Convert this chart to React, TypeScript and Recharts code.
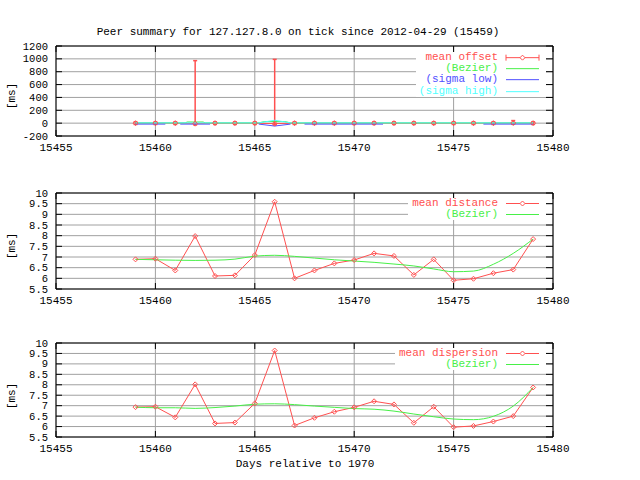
import React from "react"
import { LineChart, Line, XAxis, YAxis, CartesianGrid, ErrorBar, Legend, ReferenceArea } from "recharts"

const days = [15459, 15460, 15461, 15462, 15463, 15464, 15465, 15466, 15467, 15468, 15469, 15470, 15471, 15472, 15473, 15474, 15475, 15476, 15477, 15478, 15479]

// offset panel [ms]
const offset = [0, 0, 0, -8, 0, 0, 0, -8, 0, 0, 0, 0, 0, 0, 0, 0, 0, 0, 0, 2, 0]
const offsetErrLow = [20, 20, 20, 20, 20, 20, 20, 20, 20, 20, 20, 20, 20, 20, 20, 20, 20, 20, 20, 20, 20]
const offsetErrHigh = [20, 20, 20, 980, 20, 20, 20, 1000, 20, 20, 20, 20, 20, 20, 20, 20, 20, 20, 20, 38, 20]
const offsetBezierDays = [15459, 15461.5, 15461.6, 15462.4, 15462.5, 15465.2, 15465.5, 15466.5, 15466.8, 15479]
const offsetBezier = [4, 4, 18, 18, 4, 4, 25, 25, 4, 4]
const sigmaLowDays = [15459, 15460.5, 15460.9, 15461.25, 15462.75, 15464, 15465.2, 15466, 15466.8, 15467.2, 15467.5, 15471.45, 15474, 15476.5, 15479]
const sigmaLow = [-15, -15, null, -15, -15, null, -15, -45, -15, null, -15, -15, null, -15, -15]
const sigmaHighDays = [15459, 15465.2, 15466, 15466.8, 15479]
const sigmaHigh = [4, 4, 45, 4, 4]

// distance / dispersion panels [ms]
const distance = [6.89, 6.92, 6.37, 7.98, 6.11, 6.14, 7.09, 9.59, 6.0, 6.37, 6.7, 6.86, 7.17, 7.05, 6.16, 6.89, 5.91, 5.98, 6.24, 6.41, 7.84]
const distanceBezier = [6.89, 6.87, 6.85, 6.84, 6.85, 6.9, 7.04, 7.08, 7.03, 6.95, 6.87, 6.81, 6.75, 6.67, 6.58, 6.44, 6.31, 6.34, 6.66, 7.17, 7.84]
const dispersion = [6.93, 6.95, 6.44, 8.02, 6.15, 6.19, 7.11, 9.64, 6.05, 6.42, 6.71, 6.92, 7.21, 7.06, 6.18, 6.95, 5.97, 6.03, 6.24, 6.5, 7.87]
const dispersionBezier = [6.93, 6.9, 6.9, 6.87, 6.91, 6.98, 7.07, 7.09, 7.05, 6.98, 6.92, 6.86, 6.83, 6.74, 6.6, 6.47, 6.36, 6.33, 6.49, 6.98, 7.87]

const xTicks = [15455, 15460, 15465, 15470, 15475, 15480]
const offsetTicks = [-200, 0, 200, 400, 600, 800, 1000, 1200]
const msTicks = [5.5, 6, 6.5, 7, 7.5, 8, 8.5, 9, 9.5, 10]

const offsetData = days.map((day, i) => ({ day, v: offset[i], err: [offsetErrLow[i], offsetErrHigh[i]] }))
const offsetBezierData = offsetBezierDays.map((day, i) => ({ day, v: offsetBezier[i] }))
const sigmaLowData = sigmaLowDays.map((day, i) => ({ day, v: sigmaLow[i] }))
const sigmaHighData = sigmaHighDays.map((day, i) => ({ day, v: sigmaHigh[i] }))
const distanceData = days.map((day, i) => ({ day, v: distance[i], b: distanceBezier[i] }))
const dispersionData = days.map((day, i) => ({ day, v: dispersion[i], b: dispersionBezier[i] }))

const RED = "#ff5050"
const GREEN = "#48f048"
const BLUE = "#5050ff"
const CYAN = "#50ffff"
const GRID = "#a0a0a0"
const FONT = "'Liberation Mono', 'DejaVu Sans Mono', monospace"

const L = 56
const R = 553

const diamond = (p: any) => {
  const { cx, cy, index } = p
  if (cx == null || cy == null) return <g key={index} />
  return <path key={index} d={`M${cx},${cy - 2.5}L${cx + 2.5},${cy}L${cx},${cy + 2.5}L${cx - 2.5},${cy}Z`} fill="none" stroke={RED} />
}

const yTick = (p: any) => (
  <g>
    <text x={L - 8} y={p.y + 3.6} textAnchor="end" fontSize={10.5} fontFamily={FONT} fill="#000">{p.payload.value}</text>
    <line x1={L} x2={L + 6} y1={p.y} y2={p.y} stroke="#000" />
    <line x1={R - 7} x2={R} y1={p.y} y2={p.y} stroke="#000" />
  </g>
)

const xTick = (top: number, bottom: number) => (p: any) => (
  <g>
    <text x={p.x} y={bottom + 15} textAnchor="middle" fontSize={11} fontFamily={FONT} fill="#000">{p.payload.value}</text>
    <line x1={p.x} x2={p.x} y1={bottom} y2={bottom - 6} stroke="#000" />
    <line x1={p.x} x2={p.x} y1={top} y2={top + 6} stroke="#000" />
  </g>
)

function Key({ payload, left, row, order }: any) {
  const items = [...(payload || [])].sort((a: any, b: any) => order.indexOf(a.value) - order.indexOf(b.value))
  return (
    <div style={{ background: "#fff", fontFamily: FONT, fontSize: 11 }}>
      {items.map((p: any) => (
        <div key={p.value} style={{ display: "flex", alignItems: "center", height: row }}>
          <span style={{ width: 498 - left, textAlign: "right", color: p.color, whiteSpace: "pre", lineHeight: `${row}px` }}>{p.value}</span>
          <svg width={48} height={row} style={{ display: "block" }}>
            <line x1={8} x2={41} y1={row / 2} y2={row / 2} stroke={p.color} />
            {p.color === RED && (
              <path d={`M24.5,${row / 2 - 2.5}L27,${row / 2}L24.5,${row / 2 + 2.5}L22,${row / 2}Z`} fill="#fff" stroke={RED} />
            )}
            {p.value === "mean offset" && (
              <g stroke={RED}>
                <line x1={8} x2={8} y1={row / 2 - 3} y2={row / 2 + 3} />
                <line x1={41} x2={41} y1={row / 2 - 3} y2={row / 2 + 3} />
              </g>
            )}
          </svg>
        </div>
      ))}
    </div>
  )
}

function Panel({ top, plotTop, plotBottom, domain, ticks, keyLeft, keyTop, row, order, children }: any) {
  const H = 160
  const pt = plotTop - top
  const pb = plotBottom - top
  return (
    <div style={{ position: "absolute", left: 0, top, width: 640, height: H }}>
      <LineChart width={640} height={H} margin={{ top: pt, right: 640 - R, bottom: 0, left: 0 }}>
        <CartesianGrid stroke={GRID} />
        <XAxis dataKey="day" type="number" domain={[15455, 15480]} ticks={xTicks} interval={0} height={H - pb}
          axisLine={false} tickLine={false} tick={xTick(pt, pb)} allowDataOverflow />
        <YAxis type="number" domain={domain} ticks={ticks} interval={0} width={L}
          axisLine={false} tickLine={false} tick={yTick} allowDataOverflow />
        <ReferenceArea x1={15455} x2={15480} y1={domain[0]} y2={domain[1]} fill="none" stroke="#000" ifOverflow="visible" />
        {children}
        <Legend layout="horizontal" verticalAlign="middle" align="center"
          wrapperStyle={{ left: keyLeft, top: keyTop - top, width: 546 - keyLeft, height: "auto", margin: 0 }}
          content={(p: any) => <Key {...p} left={keyLeft} row={row} order={order} />} />
      </LineChart>
    </div>
  )
}

export default function App() {
  return (
    <div style={{ position: "absolute", left: 0, top: 0, width: 640, height: 480, background: "#fff", fontFamily: FONT, fontSize: 11, color: "#000" }}>
      <div style={{ position: "absolute", left: 298, top: 32, transform: "translate(-50%, -50%)", whiteSpace: "pre" }}>
        Peer summary for 127.127.8.0 on tick since 2012-04-29 (15459)
      </div>

      <Panel top={0} plotTop={46} plotBottom={136} domain={[-200, 1200]} ticks={offsetTicks} keyLeft={416} keyTop={51.6} row={11.33}
        order={["mean offset", "(Bezier)", "(sigma low)", "(sigma high)"]}>
        <Line data={offsetData} dataKey="v" name="mean offset" stroke={RED} dot={diamond} isAnimationActive={false}>
          <ErrorBar dataKey="err" direction="y" width={2} stroke={RED} isAnimationActive={false} />
        </Line>
        <Line data={offsetBezierData} dataKey="v" name="(Bezier)" stroke={GREEN} dot={false} isAnimationActive={false} />
        <Line data={sigmaLowData} dataKey="v" name="(sigma low)" stroke={BLUE} dot={false} isAnimationActive={false} />
        <Line data={sigmaHighData} dataKey="v" name="(sigma high)" stroke={CYAN} dot={false} isAnimationActive={false} />
      </Panel>

      <Panel top={160} plotTop={193} plotBottom={289} domain={[5.5, 10]} ticks={msTicks} keyLeft={408} keyTop={197.8} row={11}
        order={["mean distance", "(Bezier)"]}>
        <Line data={distanceData} dataKey="v" name="mean distance" stroke={RED} dot={diamond} isAnimationActive={false} />
        <Line data={distanceData} dataKey="b" name="(Bezier)" type="monotone" stroke={GREEN} dot={false} isAnimationActive={false} />
      </Panel>

      <Panel top={320} plotTop={343} plotBottom={437} domain={[5.5, 10]} ticks={msTicks} keyLeft={395} keyTop={347.8} row={11}
        order={["mean dispersion", "(Bezier)"]}>
        <Line data={dispersionData} dataKey="v" name="mean dispersion" stroke={RED} dot={diamond} isAnimationActive={false} />
        <Line data={dispersionData} dataKey="b" name="(Bezier)" type="monotone" stroke={GREEN} dot={false} isAnimationActive={false} />
      </Panel>

      {[96, 246, 396].map((y) => (
        <div key={y} style={{ position: "absolute", left: 12, top: y, transform: "translate(-50%, -50%) rotate(-90deg)", whiteSpace: "pre" }}>[ms]</div>
      ))}
      <div style={{ position: "absolute", left: 305, top: 464, transform: "translate(-50%, -50%)", whiteSpace: "pre" }}>Days relative to 1970</div>
    </div>
  )
}
